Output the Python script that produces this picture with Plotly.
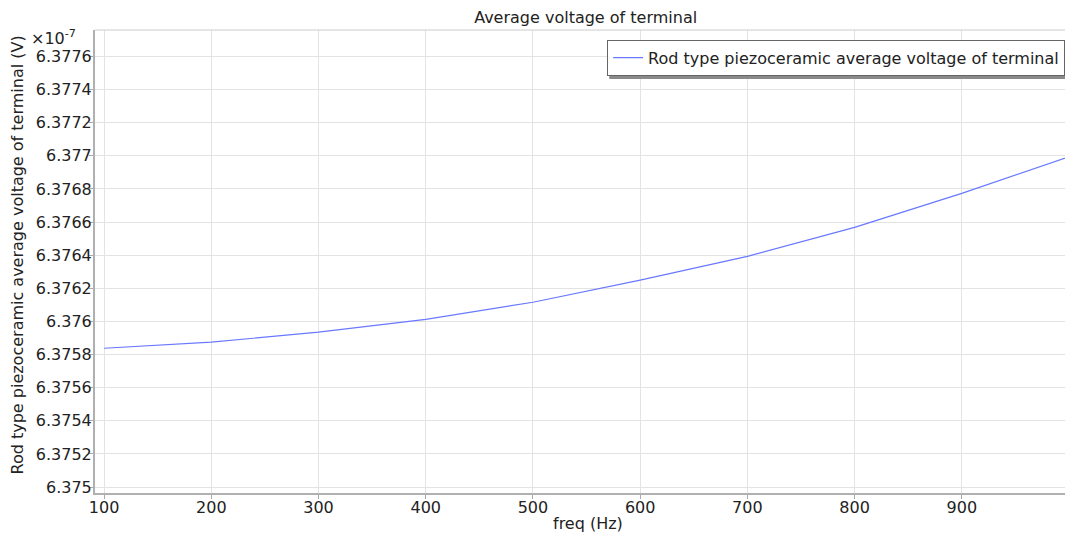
import plotly.graph_objects as go

freq = [100, 200, 300, 400, 500, 600, 700, 800, 900, 1000]
voltage_e7 = [6.375838, 6.375875, 6.375935, 6.376013, 6.376116, 6.376249, 6.376393, 6.376568, 6.376773, 6.376995]
ytick_vals = [6.375, 6.3752, 6.3754, 6.3756, 6.3758, 6.376, 6.3762, 6.3764, 6.3766, 6.3768, 6.377, 6.3772, 6.3774, 6.3776]
ytick_text = ["6.375", "6.3752", "6.3754", "6.3756", "6.3758", "6.376", "6.3762", "6.3764", "6.3766", "6.3768", "6.377", "6.3772", "6.3774", "6.3776"]
xtick_vals = [100, 200, 300, 400, 500, 600, 700, 800, 900]

FONT = "DejaVu Sans"
TXT = "#222"

# page body has an 8px margin, so the figure is sized to fill the rest of the window
fig = go.Figure()
fig.add_trace(go.Scatter(
    x=freq, y=voltage_e7, mode="lines",
    line=dict(color="rgb(105,120,255)", width=1.2),
    name="Rod type piezoceramic average voltage of terminal",
))

fig.update_layout(
    width=1065, height=528,
    margin=dict(l=87, r=4, t=22, b=43, autoexpand=False),
    paper_bgcolor="white", plot_bgcolor="white",
    font=dict(family=FONT, color=TXT, size=16),
    title=dict(text="Average voltage of terminal", x=0.5424, xanchor="center",
               y=0.983, yanchor="middle", font=dict(size=16, family=FONT, color=TXT)),
    showlegend=True,
    legend=dict(x=0.996, xanchor="right", y=0.979, yanchor="top",
                bgcolor="white", bordercolor="#666", borderwidth=1,
                itemwidth=30, tracegroupgap=0,
                font=dict(size=16, family=FONT, color=TXT)),
    xaxis=dict(range=[91.5, 1000], tickvals=xtick_vals, ticks="outside", ticklen=4,
               tickcolor="#aaa", showgrid=True, gridcolor="#e3e3e3", gridwidth=1,
               showline=True, linecolor="#b0b0b0", linewidth=2, zeroline=False,
               automargin=False, ticklabelstandoff=-5,
               tickfont=dict(size=16, family=FONT, color=TXT)),
    yaxis=dict(range=[6.374964, 6.37776], tickvals=ytick_vals, ticktext=ytick_text,
               ticks="outside", ticklen=4, tickcolor="#aaa", showgrid=True,
               gridcolor="#e3e3e3", gridwidth=1, showline=True, linecolor="#b0b0b0",
               linewidth=2, zeroline=False, automargin=False, ticklabelstandoff=-6,
               tickfont=dict(size=16, family=FONT, color=TXT)),
)

# light top and right frame
fig.add_shape(type="line", xref="paper", yref="paper", x0=0, x1=1, y0=1, y1=1,
              line=dict(color="#cccccc", width=1))
fig.add_shape(type="line", xref="paper", yref="paper", x0=1, x1=1, y0=0, y1=1,
              line=dict(color="#cccccc", width=1))

# legend drop shadow
fig.add_shape(type="rect", xref="paper", yref="paper", x0=0.528, x1=0.999, y0=0.894, y1=0.972,
              fillcolor="#8a8a8a", line=dict(width=0), layer="above")

# axis titles
fig.add_annotation(text="freq (Hz)", xref="paper", yref="paper", x=0.5065, y=0,
                   xanchor="center", yanchor="middle", yshift=-30, showarrow=False,
                   font=dict(size=16, family=FONT, color=TXT))
fig.add_annotation(text="Rod type piezoceramic average voltage of terminal (V)",
                   xref="paper", yref="paper", x=0, y=0.513, xshift=-78, textangle=-90,
                   xanchor="center", yanchor="middle", showarrow=False,
                   font=dict(size=16, family=FONT, color=TXT))

fig.add_annotation(text="×10<sup>-7</sup>", xref="paper", yref="paper",
                   x=0, y=1, xshift=-66, yshift=-20, xanchor="left", yanchor="bottom", showarrow=False,
                   font=dict(size=16, family=FONT, color=TXT))

# small toolbar icon at top right
fig.add_shape(type="rect", xref="paper", yref="paper", x0=0.997, x1=1.003, y0=1.03, y1=1.045,
              fillcolor="rgb(70,120,200)", line=dict(color="rgb(200,180,60)", width=1))

fig.write_html("out.html")
